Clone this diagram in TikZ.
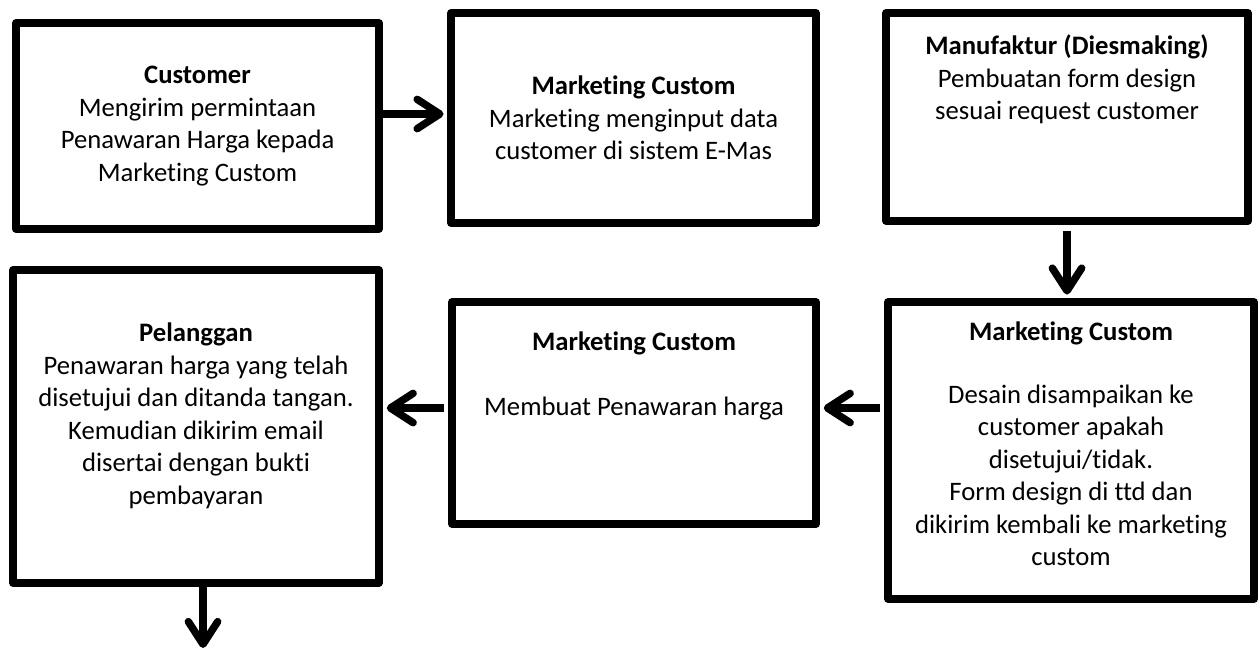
\documentclass[tikz,border=0pt]{standalone}
\usepackage{fontspec}
\setmainfont{Carlito}[Ligatures={NoCommon}]
\usetikzlibrary{arrows.meta}

\begin{document}
\begin{tikzpicture}[x=0.75pt, y=-0.75pt,
  >={Straight Barb[length=17pt, width=22pt, round]},
  box/.style={draw, line width=5.6pt, line join=round, align=center, inner sep=0pt,
    font=\fontsize{20}{24.4}\selectfont},
  flow/.style={line width=5.6pt}]
\useasboundingbox (0,0) rectangle (1259,647);

\node[box, minimum width=272.25pt, minimum height=154.5pt] (customer) at (197.5, 126)
  {\textbf{Customer}\\Mengirim permintaan\\Penawaran Harga kepada\\Marketing Custom};
\node[box, minimum width=273.75pt, minimum height=157.5pt] (input) at (633.5, 118)
  {\textbf{Marketing Custom}\\Marketing menginput data\\customer di sistem E-Mas};
\node[box, minimum width=271.5pt, minimum height=156pt] (diesmaking) at (1067, 117)
  {\textbf{Manufaktur (Diesmaking)}\\Pembuatan form design\\sesuai request customer\\[35pt]~};

\node[box, minimum width=274.5pt, minimum height=222.75pt] (desain) at (1071, 450.5)
  {\textbf{Marketing Custom}\\[23pt]Desain disampaikan ke\\customer apakah\\disetujui/tidak.\\Form design di ttd dan\\dikirim kembali ke marketing\\custom\\[-14pt]~};
\node[box, minimum width=273pt, minimum height=166.5pt] (penawaran) at (634, 413)
  {\textbf{Marketing Custom}\\[24.4pt]Membuat Penawaran harga\\[34pt]~};
\node[box, minimum width=274.5pt, minimum height=234.75pt] (pelanggan) at (196, 426.5)
  {\textbf{Pelanggan}\\Penawaran harga yang telah\\disetujui dan ditanda tangan.\\Kemudian dikirim email\\disertai dengan bukti\\pembayaran\\[-5pt]~};

\coordinate (lanjut) at (203, 648);

\path[->, flow, shorten >=2.8pt] ([yshift=9pt]customer.east) edge ([yshift=9pt]customer.east -| input.west);
\path[->, flow, shorten >=2.8pt] ([yshift=-5pt]diesmaking.south) edge (diesmaking.south |- desain.north);
\path[->, flow, shorten <=3pt, shorten >=3pt] ([yshift=3.75pt]penawaran.east -| desain.west) edge ([yshift=3.75pt]penawaran.east);
\path[->, flow, shorten <=3pt, shorten >=3pt] ([yshift=3.75pt]penawaran.west) edge ([yshift=3.75pt]penawaran.west -| pelanggan.east);
\path[->, flow] ([xshift=5.25pt]pelanggan.south) edge (lanjut);

\end{tikzpicture}
\end{document}
